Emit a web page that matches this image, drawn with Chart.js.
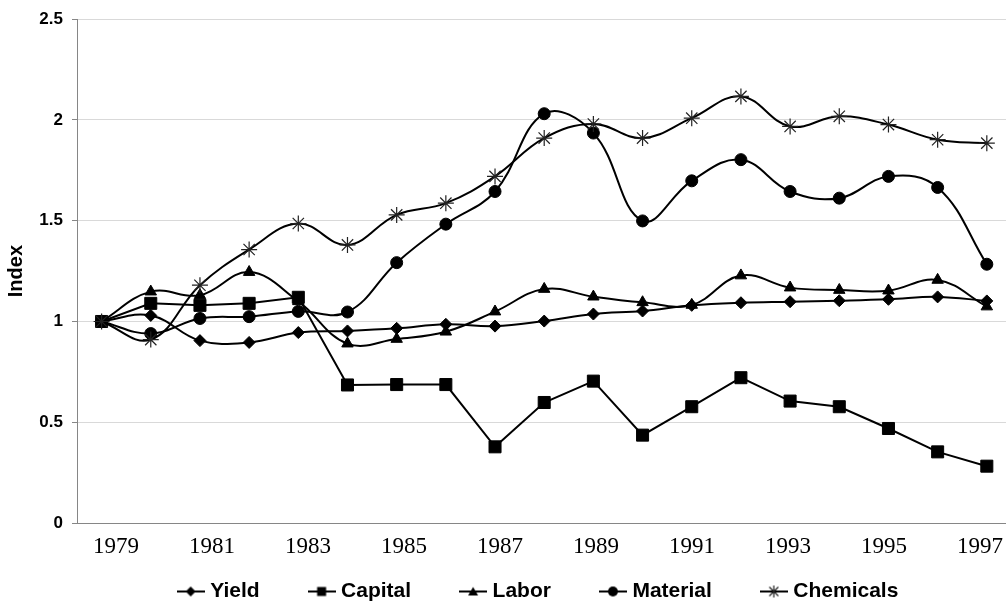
<!DOCTYPE html>
<html>
<head>
<meta charset="utf-8">
<script src="https://cdn.jsdelivr.net/npm/chart.js@4.4.1/dist/chart.umd.min.js"></script>
<style>
  html, body { margin: 0; padding: 0; background: #fff; }
  #wrap { width: 1006px; height: 604px; }
</style>
</head>
<body>
<div id="wrap"><canvas id="myChart" width="1006" height="604"></canvas></div>
<script>
/* Datos */
const years = [1979, 1980, 1981, 1982, 1983, 1984, 1985, 1986, 1987, 1988,
               1989, 1990, 1991, 1992, 1993, 1994, 1995, 1996, 1997];
const tickYears = [1979, 1981, 1983, 1985, 1987, 1989, 1991, 1993, 1995, 1997];
const seriesNames = ['Yield', 'Capital', 'Labor', 'Material', 'Chemicals'];

const yieldVals = [1.00, 1.03, 0.905, 0.896, 0.945, 0.953, 0.966, 0.986, 0.977, 1.002,
                   1.037, 1.052, 1.08, 1.093, 1.098, 1.103, 1.11, 1.122, 1.102];
const capitalVals = [1.00, 1.09, 1.08, 1.09, 1.12, 0.685, 0.687, 0.687, 0.378, 0.598,
                     0.704, 0.436, 0.577, 0.721, 0.605, 0.577, 0.469, 0.353, 0.282];
const laborVals = [1.00, 1.148, 1.13, 1.245, 1.10, 0.89, 0.913, 0.949, 1.049, 1.161,
                   1.123, 1.095, 1.082, 1.228, 1.168, 1.156, 1.153, 1.206, 1.074];
const materialVals = [1.00, 0.94, 1.015, 1.024, 1.05, 1.047, 1.292, 1.483, 1.645, 2.031,
                      1.935, 1.499, 1.698, 1.803, 1.645, 1.612, 1.72, 1.665, 1.284];
const chemicalsVals = [1.00, 0.91, 1.18, 1.357, 1.486, 1.38, 1.529, 1.587, 1.72, 1.91,
                       1.98, 1.91, 2.009, 2.117, 1.968, 2.018, 1.977, 1.902, 1.885];

/* iconos de la leyenda: linea con marcador */
const legendIcon = (shape) => {
    const c = document.createElement('canvas');
    c.width = 28;
    c.height = 16;
    const g = c.getContext('2d');
    g.strokeStyle = '#000';
    g.fillStyle = '#000';
    g.lineWidth = 2;
    g.beginPath();
    g.moveTo(0, 8);
    g.lineTo(28, 8);
    g.stroke();
    g.beginPath();
    if (shape === 'diamond') {
        g.moveTo(14, 3); g.lineTo(19, 8); g.lineTo(14, 13); g.lineTo(9, 8);
        g.closePath(); g.fill();
    } else if (shape === 'square') {
        g.rect(9.5, 3.5, 9, 9); g.fill();
    } else if (shape === 'triangle') {
        g.moveTo(14, 3.5); g.lineTo(19, 12); g.lineTo(9, 12);
        g.closePath(); g.fill();
    } else if (shape === 'circle') {
        g.arc(14, 8, 5, 0, Math.PI * 2); g.fill();
    } else {
        g.lineWidth = 1.2;
        g.strokeStyle = '#222';
        g.moveTo(14, 2); g.lineTo(14, 14);
        g.moveTo(9.5, 3.5); g.lineTo(18.5, 12.5);
        g.moveTo(18.5, 3.5); g.lineTo(9.5, 12.5);
        g.stroke();
    }
    return c;
};
const legendIcons = ['diamond', 'square', 'triangle', 'circle', 'star'].map(legendIcon);

const toPoints = (vals) => years.map((y, i) => ({ x: y, y: vals[i] }));

const baseSet = {
    borderColor: '#000',
    backgroundColor: '#000',
    pointBorderColor: '#000',
    pointBackgroundColor: '#000',
    borderWidth: 2,
    pointBorderWidth: 1,
    clip: false
};

const data = {
    datasets: [
        Object.assign({}, baseSet, { label: seriesNames[0], data: toPoints(yieldVals), pointStyle: 'rectRot', pointRadius: 6, tension: 0.4, order: 4 }),
        Object.assign({}, baseSet, { label: seriesNames[1], data: toPoints(capitalVals), pointStyle: 'rect', pointRadius: 8.5, tension: 0, order: 3 }),
        Object.assign({}, baseSet, { label: seriesNames[2], data: toPoints(laborVals), pointStyle: 'triangle', pointRadius: 6.6, tension: 0.4, order: 2 }),
        Object.assign({}, baseSet, { label: seriesNames[3], data: toPoints(materialVals), pointStyle: 'circle', pointRadius: 6, tension: 0.4, order: 1 }),
        Object.assign({}, baseSet, { label: seriesNames[4], data: toPoints(chemicalsVals), pointStyle: 'star', pointRadius: 8, pointBorderColor: '#222', pointBorderWidth: 1.2, tension: 0.4, order: 0 })
    ]
};

/* mover la leyenda como en el original */
const legendNudge = {
    id: 'legendNudge',
    afterLayout(chart) {
        const lg = chart.legend;
        const h = lg.height;
        lg.left += 37;
        lg.right += 37;
        lg.top = 528;
        lg.bottom = 528 + h;
    }
};

const config = {
    type: 'line',
    data: data,
    plugins: [legendNudge],
    options: {
        responsive: false,
        animation: false,
        layout: { autoPadding: false, padding: { top: 17, bottom: -48, left: 0, right: 0 } },
        scales: {
            /* eje de datos (oculto) */
            x: {
                type: 'linear',
                display: false,
                min: 1978.5,
                max: 1997.39
            },
            /* eje con las etiquetas de los años */
            xLabels: {
                type: 'linear',
                position: 'bottom',
                min: 1978.19,
                max: 1997.54,
                afterBuildTicks: (s) => { s.ticks = tickYears.map(v => ({ value: v })); },
                afterFit: (s) => {
                    s.height = 45;
                    s.paddingLeft = 0;
                    s.paddingRight = 0;
                },
                grid: { display: false, drawTicks: false },
                border: { display: true, color: '#868686', width: 1 },
                ticks: {
                    autoSkip: false,
                    maxRotation: 0,
                    padding: 10,
                    color: '#000',
                    font: { family: 'Liberation Serif', size: 23 },
                    callback: (v) => String(v)
                }
            },
            y: {
                min: 0,
                max: 2.5,
                afterFit: (s) => { s.width = 77; },
                grid: { color: '#d9d9d9', tickColor: '#868686', tickLength: 5 },
                border: { color: '#868686', width: 1 },
                ticks: {
                    stepSize: 0.5,
                    padding: 9,
                    color: '#000',
                    font: { family: 'Liberation Sans', size: 17, weight: 'bold' },
                    callback: (v) => String(v)
                },
                title: {
                    display: true,
                    text: 'Index',
                    color: '#000',
                    font: { family: 'Liberation Sans', size: 20, weight: 'bold' },
                    padding: { top: 4, bottom: 0 }
                }
            }
        },
        plugins: {
            tooltip: { enabled: false },
            legend: {
                position: 'bottom',
                labels: {
                    usePointStyle: true,
                    pointStyleWidth: 18,
                    padding: 53,
                    color: '#000',
                    font: { family: 'Liberation Sans', size: 21, weight: 'bold' },
                    sort: (a, b) => a.datasetIndex - b.datasetIndex,
                    generateLabels: (chart) => Chart.defaults.plugins.legend.labels.generateLabels(chart)
                        .map(it => Object.assign(it, { pointStyle: legendIcons[it.datasetIndex] }))
                }
            }
        }
    }
};

let myChart = new Chart(document.getElementById('myChart'), config);
</script>
</body>
</html>
